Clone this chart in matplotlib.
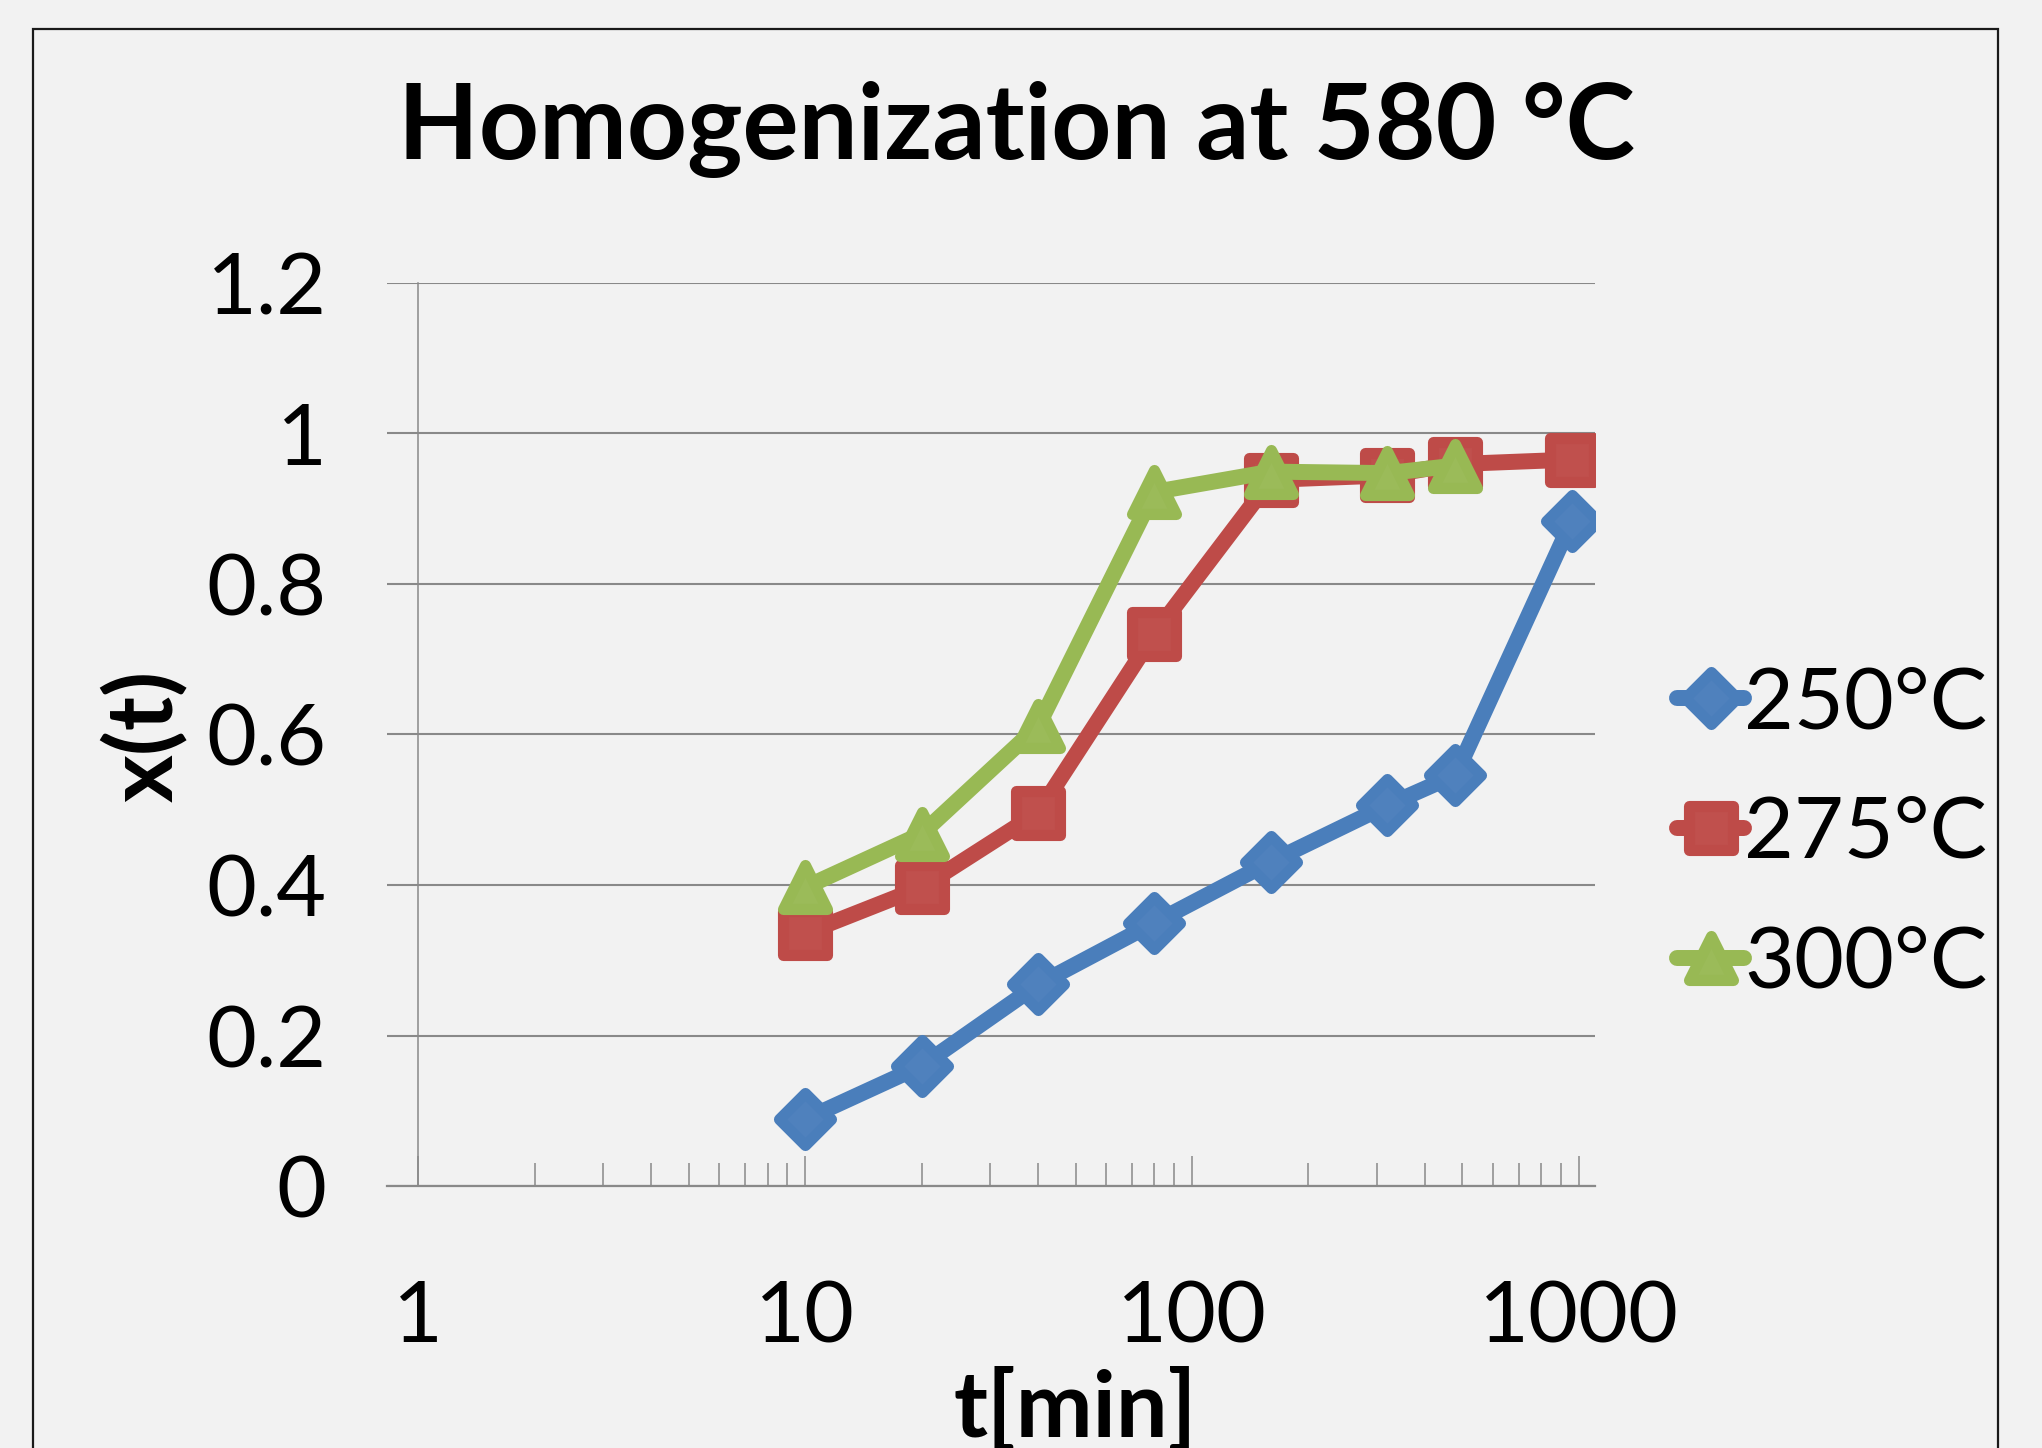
import numpy as np
import matplotlib
matplotlib.use("Agg")
import matplotlib.pyplot as plt
from matplotlib.markers import MarkerStyle
from matplotlib.ticker import FixedLocator, FuncFormatter, NullFormatter
from matplotlib.patches import Rectangle

plt.rcParams["font.family"] = ["Lato", "DejaVu Sans"]

# data
t_min      = [10, 20, 40, 80, 160, 320, 480, 960]
x_250      = [0.089, 0.160, 0.268, 0.350, 0.431, 0.506, 0.546, 0.884]
x_275      = [0.336, 0.397, 0.496, 0.734, 0.938, 0.944, 0.959, 0.965]
t_300      = [10, 20, 40, 80, 160, 320, 480]
x_300      = [0.397, 0.468, 0.611, 0.922, 0.949, 0.947, 0.957]
labels     = ["250°C", "275°C", "300°C"]
x_ticks    = [1, 10, 100, 1000]
y_ticks    = [0, 0.2, 0.4, 0.6, 0.8, 1.0, 1.2]

BG   = "#F2F2F2"
GRID = "#898989"
W, H = 2042, 1448

fig = plt.figure(figsize=(W / 100, H / 100), dpi=100, facecolor=BG)
ax = fig.add_axes([387 / W, 1 - 1186.3 / H, (1595 - 387) / W, (1186.3 - 282.6) / H])
ax.set_facecolor(BG)

# marker, size, edge width, line colour, fill colour
series = [
    (t_min, x_250, "D", 26.5, 8, "#4A7EBB", "#4F81BD"),
    (t_min, x_275, "s", 31, 8, "#BE4B48", "#C0504D"),
    (t_300, x_300, "^", 32, 8, "#98B954", "#9BBB59"),
]
for (tx, vy, mk, ms, mew, lc, fc), lab in zip(series, labels):
    ax.plot(tx, vy, color=lc, lw=11.5, solid_joinstyle="round", solid_capstyle="round",
            marker=MarkerStyle(mk, joinstyle="round"), ms=ms, mfc=fc, mec=lc, mew=mew,
            label=lab)

ax.set_xscale("log")
ax.set_xlim(10 ** -0.081, 10 ** 3.042)
ax.set_ylim(0, 1.2)

minor = (np.arange(2, 10)[None, :] * np.array([1, 10, 100])[:, None]).ravel()
ax.xaxis.set_major_locator(FixedLocator(x_ticks))
ax.xaxis.set_minor_locator(FixedLocator(minor))
ax.xaxis.set_major_formatter(FuncFormatter(lambda v, p: f"{v:g}"))
ax.xaxis.set_minor_formatter(NullFormatter())
ax.yaxis.set_major_locator(FixedLocator(y_ticks))
ax.yaxis.set_major_formatter(FuncFormatter(lambda v, p: f"{v:g}"))

ax.grid(axis="y", color=GRID, lw=1.5)
ax.set_axisbelow(True)
for s in ["top", "right"]:
    ax.spines[s].set_visible(False)
ax.spines["left"].set_position(("data", 1))
ax.spines["left"].set_color(GRID)
ax.spines["left"].set_linewidth(1.1)
ax.spines["bottom"].set_color(GRID)
ax.spines["bottom"].set_linewidth(1.6)

ax.tick_params(axis="x", which="major", direction="in", length=21.5, width=1.1,
               color=GRID, labelsize=62, pad=67)
ax.tick_params(axis="x", which="minor", direction="in", length=16.5, width=1.1, color=GRID)
ax.tick_params(axis="y", which="major", length=0, labelsize=62, pad=66)

fig.text(0.498, 1 - 159 / H, "Homogenization at 580 °C", fontsize=75.5,
         fontweight="bold", ha="center", va="baseline")
fig.text(145 / W, 1 - 736 / H, "x(t)", fontsize=66, fontweight="bold",
         rotation=90, ha="center", va="center")
fig.text(1075 / W, 1 - 1437 / H, "t[min]", fontsize=66, fontweight="bold",
         ha="center", va="baseline")

ax.legend(loc="center left", bbox_to_anchor=(1677 / W, 1 - 834 / H),
          bbox_transform=fig.transFigure, frameon=False, fontsize=62,
          handlelength=0.78, handletextpad=0.0, borderpad=0, borderaxespad=0,
          labelspacing=0.6, numpoints=1)

fig.add_artist(Rectangle((33 / W, -0.05), (1998 - 33) / W, 1.05 - 29 / H,
                         transform=fig.transFigure, fill=False, ec="#1a1a1a", lw=1.6))

fig.savefig("out.png", dpi=100, facecolor=BG)
